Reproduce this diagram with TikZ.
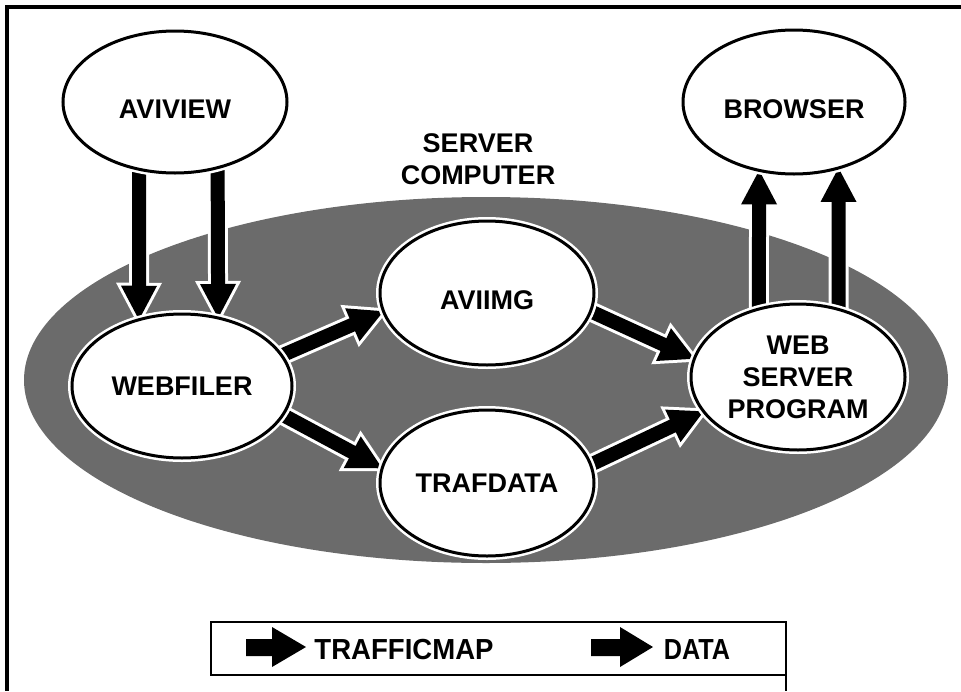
\documentclass[tikz,border=0pt]{standalone}
\usepackage{fontspec}
\setmainfont{Liberation Sans}
\usetikzlibrary{shapes.geometric,calc}

\pgfdeclarelayer{shade}
\pgfdeclarelayer{links}
\pgfsetlayers{shade,links,main}

\newcommand{\labelfont}{\bfseries\fontsize{27}{32}\selectfont}
\newcommand{\keyfont}{\bfseries\fontsize{29}{32}\selectfont}

\tikzset{
  proc/.style={ellipse, draw=black, line width=3pt, fill=white,
    inner sep=0pt, outer sep=0pt, align=center, font=\labelfont,
    preaction={draw=white, line width=8pt}},
  lowtext/.style={text height=32pt, text depth=0pt},
  servershade/.style={fill=black!58},
  haloline/.style={draw=white, line width=20pt},
  halohead/.style={draw=white, fill=white, line width=6pt, line join=miter},
  linkshaft/.style={draw=black, line width=14pt},
  linkhead/.style={fill=black},
  frameline/.style={draw=black, line width=3.5pt},
  keybox/.style={draw=black, line width=2.5pt},
  keyglyph/.style={fill=black},
}

% thick arrow with a white rim, from one node border to another
\newcommand{\biglink}[2]{%
  \begin{pgfonlayer}{links}
    \coordinate (lk-s) at ($(#1)!-12pt!(#2)$);
    \coordinate (lk-b) at ($(#2)!34pt!(#1)$);
    \coordinate (lk-e) at ($(lk-b)!4pt!(#2)$);
    \coordinate (lk-l) at ($(lk-b)!18pt!90:(#2)$);
    \coordinate (lk-r) at ($(lk-b)!18pt!-90:(#2)$);
    \path[haloline] (lk-s) -- (lk-e);
    \path[halohead] (#2) -- (lk-l) -- (lk-r) -- cycle;
    \path[linkshaft] (lk-s) -- (lk-e);
    \path[linkhead] (#2) -- (lk-l) -- (lk-r) -- cycle;
  \end{pgfonlayer}}

\begin{document}
\begin{tikzpicture}[x=1pt, y=-1pt]
  \useasboundingbox (0,0) rectangle (961,691);

  % outer frame (top and left edges)
  \draw[frameline] (961,7) -- (7,7) -- (7,691);

  % the server computer region
  \begin{pgfonlayer}{shade}
    \path[servershade] (486,380) ellipse [x radius=462pt, y radius=183pt];
  \end{pgfonlayer}
  \node[font=\labelfont, align=center] (srvlabel) at (478,159) {SERVER\\COMPUTER};

  % programs
  \node[proc, lowtext, minimum width=224pt, minimum height=142pt] (aviview) at (175,102) {AVIVIEW};
  \node[proc, lowtext, minimum width=222pt, minimum height=144pt] (browser) at (794,102) {BROWSER};
  \node[proc, minimum width=220pt, minimum height=144pt] (webfiler) at (182,386) {WEBFILER};
  \node[proc, lowtext, minimum width=214pt, minimum height=144pt] (aviimg) at (487,293) {AVIIMG};
  \node[proc, minimum width=214pt, minimum height=146pt] (trafdata) at (487,483) {TRAFDATA};
  \node[proc, minimum width=214pt, minimum height=146pt] (webserver) at (798,377) {WEB\\SERVER\\PROGRAM};

  % data flow
  \biglink{aviview.-118}{webfiler.123}
  \biglink{aviview.-57}{webfiler.62}
  \biglink{webfiler.17}{aviimg.190}
  \biglink{webfiler.-16}{trafdata.172}
  \biglink{aviimg.-10}{webserver.170}
  \biglink{trafdata.10}{webserver.-160}
  \biglink{webserver.120}{browser.-117}
  \biglink{webserver.59}{browser.-56}

  % legend
  \draw[keybox] (211,622) rectangle (786,675);
  \draw[keybox] (786,675) -- (786,691);
  \path[keyglyph] (246,639) -- (272,639) -- (272,627) -- (306,647)
    -- (272,667) -- (272,656) -- (246,656) -- cycle;
  \node[font=\keyfont] (keymap) at (404,650) {\scalebox{0.95}[1]{TRAFFICMAP}};
  \path[keyglyph] (591,639) -- (620,639) -- (620,627) -- (653,647)
    -- (620,667) -- (620,656) -- (591,656) -- cycle;
  \node[font=\keyfont] (keydata) at (697,650) {\scalebox{0.87}[1]{DATA}};
\end{tikzpicture}
\end{document}
